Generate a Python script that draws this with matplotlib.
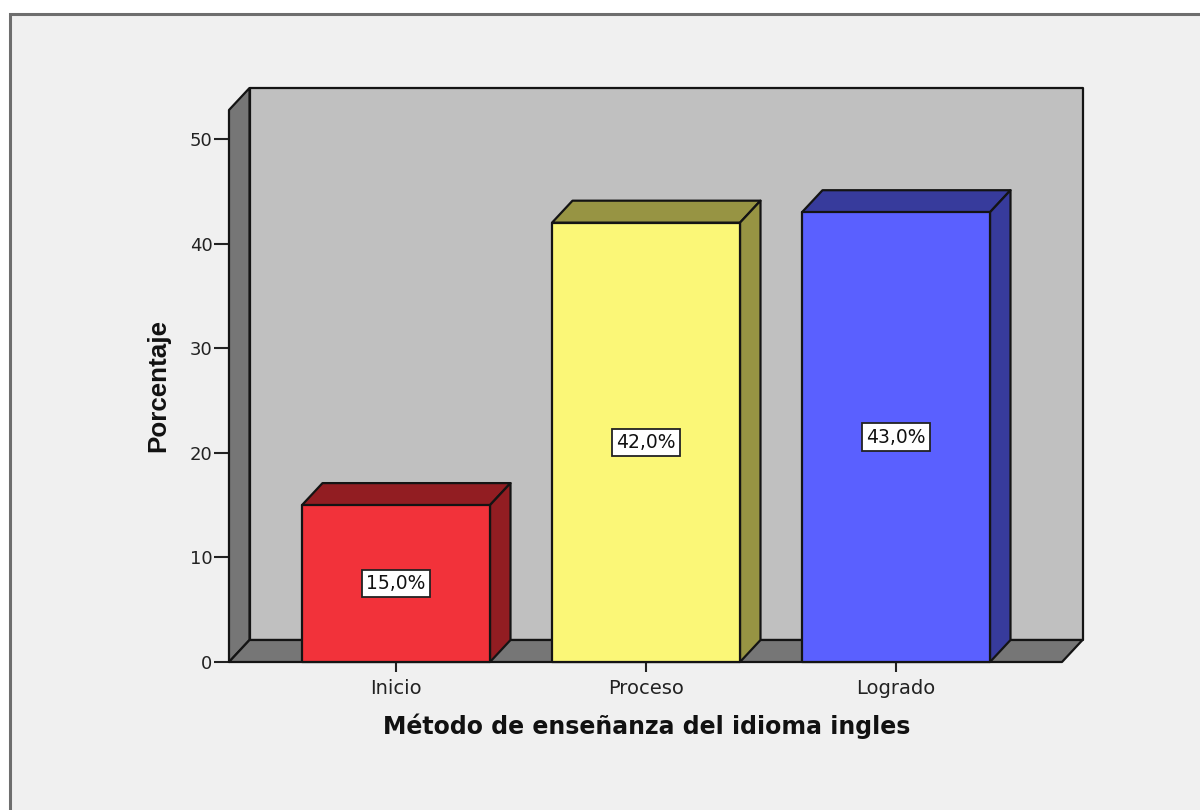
import matplotlib
matplotlib.use("Agg")
import matplotlib.pyplot as plt
from matplotlib.patches import Rectangle

categories = ["Inicio", "Proceso", "Logrado"]
values = [15.0, 42.0, 43.0]
bar_labels = ["15,0%", "42,0%", "43,0%"]
y_ticks = [0, 10, 20, 30, 40, 50]
x_title = "Método de enseñanza del idioma ingles"
y_title = "Porcentaje"

front_colors = ["#f2323a", "#fbf777", "#5a60ff"]
shade_colors = ["#921d22", "#979443", "#373b9c"]

W, H = 1200, 810
plt.rcParams["font.family"] = ["DejaVu Sans"]

fig = plt.figure(figsize=(W / 100, H / 100), dpi=100, facecolor="white")

# panel behind the chart, open on the right and bottom like the screenshot
fig.add_artist(Rectangle((9.5 / W, -0.05), 1.1, 1.05 - 14 / H, transform=fig.transFigure,
                         facecolor="#f0f0f0", edgecolor="#6e6e6e", linewidth=2.2, zorder=-1))

# front plane of the chart in pixels
left, right, base, top = 229, 1062, 662, 110
ax = fig.add_axes([left / W, 1 - base / H, (right - left) / W, (base - top) / H])
px_per_unit_y = (662 - 139) / 50
px_per_unit_x = 250
ax.set_ylim(0, (base - top) / px_per_unit_y)
ax.set_xlim((left - 396) / px_per_unit_x, (right - 396) / px_per_unit_x)
ax.patch.set_visible(False)
for s in ax.spines.values():
    s.set_visible(False)

dx = 20.5 / px_per_unit_x
dy = 22 / px_per_unit_y
x0, x1 = ax.get_xlim()
y0, y1 = ax.get_ylim()
edge = dict(edgecolor="#141414", linewidth=1.6, clip_on=False, joinstyle="round")

# back wall, side wall, floor
ax.fill([x0 + dx, x1 + dx, x1 + dx, x0 + dx], [y0 + dy, y0 + dy, y1 + dy, y1 + dy],
        facecolor="#c0c0c0", zorder=1, **edge)
ax.fill([x0, x0 + dx, x0 + dx, x0], [y0, y0 + dy, y1 + dy, y1],
        facecolor="#767676", zorder=2, **edge)
ax.fill([x0, x1, x1 + dx, x0 + dx], [y0, y0, y0 + dy, y0 + dy],
        facecolor="#767676", zorder=2, **edge)

width = 188 / px_per_unit_x
xs = list(range(len(categories)))
ax.bar(xs, values, width=width, color=front_colors, zorder=5, **edge)
for x, v, shade, lab in zip(xs, values, shade_colors, bar_labels):
    l, r = x - width / 2, x + width / 2
    ax.fill([l, r, r + dx, l + dx], [v, v, v + dy, v + dy], facecolor=shade, zorder=4, **edge)
    ax.fill([r, r + dx, r + dx, r], [0, dy, v + dy, v], facecolor=shade, zorder=4, **edge)
    ax.text(x, v / 2, lab, ha="center", va="center", fontsize=13.5, color="#111111", zorder=6,
            bbox=dict(boxstyle="square,pad=0.22", facecolor="white", edgecolor="#222222", linewidth=1.3))

ax.set_xticks(xs, categories)
ax.set_yticks(y_ticks)
ax.tick_params(axis="both", length=11, width=1.5, color="#222222", labelcolor="#222222",
               labelsize=13)
ax.tick_params(axis="x", length=7, pad=5, labelsize=14)
ax.tick_params(axis="y", pad=1)

fig.text(646.5 / W, 1 - 726 / H, x_title, ha="center", va="center", fontsize=17,
         fontweight="bold", color="#111111")
fig.text(158 / W, 1 - 385 / H, y_title, ha="center", va="center", rotation=90, fontsize=18.7,
         fontweight="bold", color="#111111", family="Liberation Sans")

fig.savefig("out.png", dpi=100, facecolor=fig.get_facecolor())
